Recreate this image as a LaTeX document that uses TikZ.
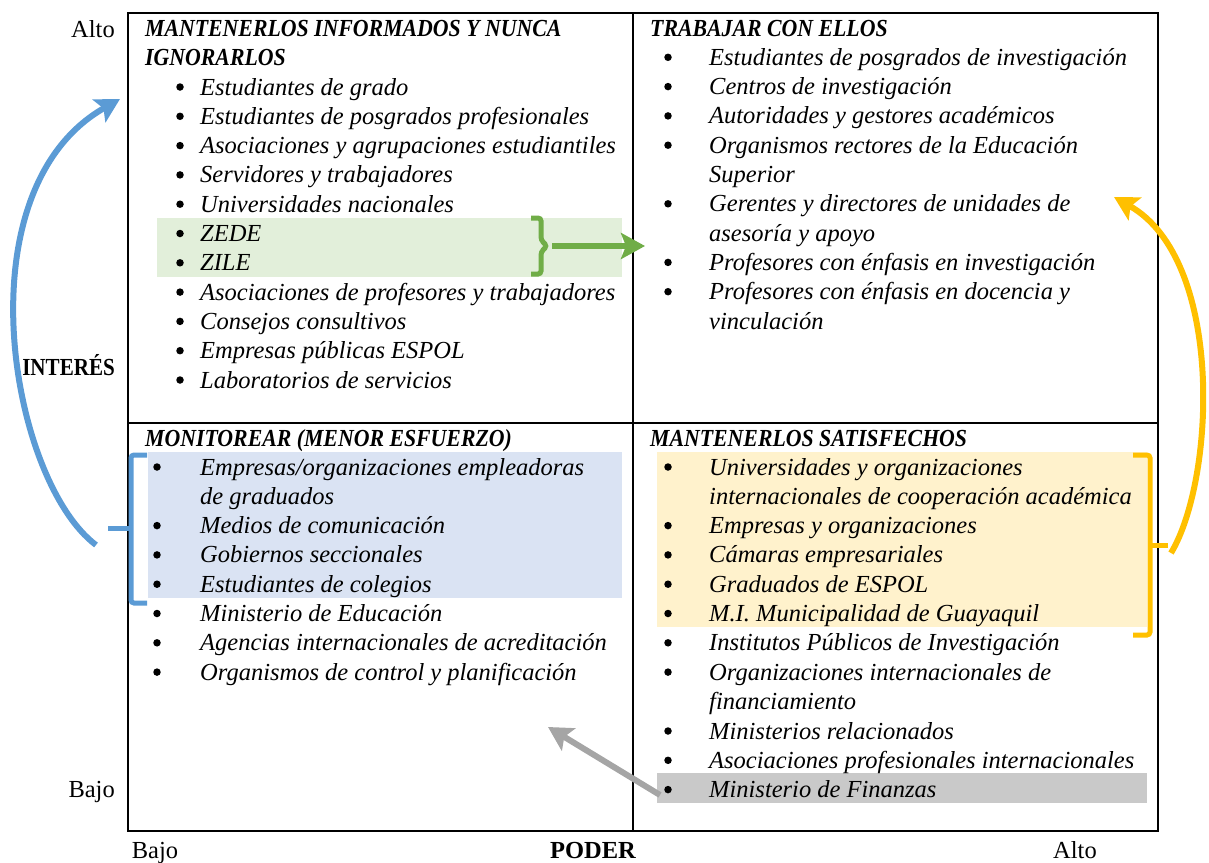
\documentclass[tikz,border=0pt]{standalone}
\usepackage{fontspec}
\setmainfont{Liberation Serif}
\newfontfamily\ttlfont[FakeStretch=0.89]{Liberation Serif}
\newfontfamily\axbfont[FakeStretch=0.86]{Liberation Serif}
\usetikzlibrary{arrows.meta}
\definecolor{gfill}{HTML}{E2EFDA}
\definecolor{gline}{HTML}{70AD47}
\definecolor{bfill}{HTML}{DAE3F3}
\definecolor{bline}{HTML}{5B9BD5}
\definecolor{yfill}{HTML}{FFF2CC}
\definecolor{yline}{HTML}{FFC000}
\definecolor{kfill}{HTML}{C9C9C9}
\definecolor{kline}{HTML}{A5A5A5}
\tikzset{
  itm/.style={anchor=base west, inner sep=0pt, font=\fontsize{24.5}{29}\selectfont\itshape},
  bul/.style={circle, fill=black, inner sep=0pt, minimum size=7.5pt, yshift=8pt},
  ttl/.style={anchor=base west, inner sep=0pt, font=\fontsize{24.5}{29}\selectfont\ttlfont\bfseries\itshape},
  axl/.style={inner sep=0pt, font=\fontsize{24.5}{29}\selectfont},
  grid/.style={draw=black, line width=2pt},
  brk/.style={line width=5pt, rounded corners=3pt},
  bigarrow/.style={line width=6pt, -{Stealth[length=24pt,width=26pt,inset=5pt]}},
}
\begin{document}
\begin{tikzpicture}[x=1pt,y=-1pt]
\useasboundingbox (0,0) rectangle (1209,862);
% highlights
\fill[gfill] (157,218) rectangle (622,277);
\fill[bfill] (148,452) rectangle (622,598);
\fill[yfill] (657,452) rectangle (1147,627);
\fill[kfill] (657,773) rectangle (1147,803);
% grid
\draw[grid] (128,13) rectangle (1158,831);
\draw[grid] (633,13) -- (633,831);
\draw[grid] (128,423) -- (1158,423);
% axis labels
\node[axl, anchor=base east] (altoY) at (115,37) {Alto};
\node[axl, anchor=base east, font=\fontsize{24.5}{29}\selectfont\axbfont\bfseries] (interes) at (115,375) {INTERÉS};
\node[axl, anchor=base east] (bajoY) at (115,797) {Bajo};
\node[axl, anchor=base] (bajoX) at (155,858) {Bajo};
\node[axl, anchor=base, font=\fontsize{24.5}{29}\selectfont\bfseries] (poder) at (593,858) {PODER};
\node[axl, anchor=base] (altoX) at (1075,858) {Alto};
% top-left
\node[ttl] (t1a) at (145,36) {MANTENERLOS INFORMADOS Y NUNCA};
\node[ttl] (t1b) at (145,65.3) {IGNORARLOS};
\foreach \i/\y in {1/95,2/124.3,3/153.6,4/182.9,5/212.2,6/241.5,7/270.8,8/300.1,9/329.4,10/358.7,11/388}{
  \node[bul] (b1-\i) at (180,\y) {};
}
\node[itm] (a1) at (200,95) {Estudiantes de grado};
\node[itm] (a2) at (200,124.3) {Estudiantes de posgrados profesionales};
\node[itm] (a3) at (200,153.6) {Asociaciones y agrupaciones estudiantiles};
\node[itm] (a4) at (200,182.9) {Servidores y trabajadores};
\node[itm] (a5) at (200,212.2) {Universidades nacionales};
\node[itm] (a6) at (200,241.5) {ZEDE};
\node[itm] (a7) at (200,270.8) {ZILE};
\node[itm] (a8) at (200,300.1) {Asociaciones de profesores y trabajadores};
\node[itm] (a9) at (200,329.4) {Consejos consultivos};
\node[itm] (a10) at (200,358.7) {Empresas públicas ESPOL};
\node[itm] (a11) at (200,388) {Laboratorios de servicios};
% top-right
\node[ttl] (t2) at (650,36) {TRABAJAR CON ELLOS};
\foreach \i/\y in {1/65.3,2/94.6,3/123.9,4/153.2,5/211.8,6/270.4,7/299.7}{
  \node[bul] (b2-\i) at (668,\y) {};
}
\node[itm] (c1) at (709,65.3) {Estudiantes de posgrados de investigación};
\node[itm] (c2) at (709,94.6) {Centros de investigación};
\node[itm] (c3) at (709,123.9) {Autoridades y gestores académicos};
\node[itm] (c4) at (709,153.2) {Organismos rectores de la Educación};
\node[itm] (c4b) at (709,182.5) {Superior};
\node[itm] (c5) at (709,211.8) {Gerentes y directores de unidades de};
\node[itm] (c5b) at (709,241.1) {asesoría y apoyo};
\node[itm] (c6) at (709,270.4) {Profesores con énfasis en investigación};
\node[itm] (c7) at (709,299.7) {Profesores con énfasis en docencia y};
\node[itm] (c7b) at (709,329) {vinculación};
% bottom-left
\node[ttl] (t3) at (145,446) {MONITOREAR (MENOR ESFUERZO)};
\foreach \i/\y in {1/475,2/533.6,3/562.9,4/592.2,5/621.5,6/650.8,7/680.1}{
  \node[bul] (b3-\i) at (157,\y) {};
}
\node[itm] (d1) at (200,475) {Empresas/organizaciones empleadoras};
\node[itm] (d1b) at (200,504.3) {de graduados};
\node[itm] (d2) at (200,533.6) {Medios de comunicación};
\node[itm] (d3) at (200,562.9) {Gobiernos seccionales};
\node[itm] (d4) at (200,592.2) {Estudiantes de colegios};
\node[itm] (d5) at (200,621.5) {Ministerio de Educación};
\node[itm] (d6) at (200,650.8) {Agencias internacionales de acreditación};
\node[itm] (d7) at (200,680.1) {Organismos de control y planificación};
% bottom-right
\node[ttl] (t4) at (650,446) {MANTENERLOS SATISFECHOS};
\foreach \i/\y in {1/475,2/533.6,3/562.9,4/592.2,5/621.5,6/650.8,7/680.1,8/739,9/768.3,10/797.6}{
  \node[bul] (b4-\i) at (668,\y) {};
}
\node[itm] (e1) at (709,475) {Universidades y organizaciones};
\node[itm] (e1b) at (709,504.3) {internacionales de cooperación académica};
\node[itm] (e2) at (709,533.6) {Empresas y organizaciones};
\node[itm] (e3) at (709,562.9) {Cámaras empresariales};
\node[itm] (e4) at (709,592.2) {Graduados de ESPOL};
\node[itm] (e5) at (709,621.5) {M.I. Municipalidad de Guayaquil};
\node[itm] (e6) at (709,650.8) {Institutos Públicos de Investigación};
\node[itm] (e7) at (709,680.1) {Organizaciones internacionales de};
\node[itm] (e7b) at (709,709.4) {financiamiento};
\node[itm] (e8) at (709,739) {Ministerios relacionados};
\node[itm] (e9) at (709,768.3) {Asociaciones profesionales internacionales};
\node[itm] (e10) at (709,797.6) {Ministerio de Finanzas};
% brackets
\draw[brk, gline] (531,218) -- (541,218) -- (541,240) -- (547,246) -- (541,252) -- (541,274) -- (531,274);
\draw[brk, bline] (147,455) -- (131,455) -- (131,603) -- (147,603);
\draw[line width=5pt, bline] (131,528) -- (108,528);
\draw[brk, yline] (1133,455) -- (1150,455) -- (1150,635) -- (1133,635);
\draw[line width=5pt, yline] (1150,545) -- (1168,545);
% arrows
\coordinate (gs) at (552,246);
\coordinate (ge) at (645,246);
\draw[bigarrow, gline] (gs) -- (ge);
\coordinate (bs) at (96,545);
\coordinate (be) at (120,99);
\draw[bigarrow, bline] (bs) .. controls (10,480) and (-40,190) .. (be);
\coordinate (ys) at (1171,553);
\coordinate (ye) at (1114,197);
\draw[bigarrow, yline] (ys) .. controls (1215,480) and (1225,260) .. (ye);
\coordinate (ks) at (660,795);
\coordinate (ke) at (548,727);
\draw[bigarrow, kline] (ks) -- (ke);
\end{tikzpicture}
\end{document}
